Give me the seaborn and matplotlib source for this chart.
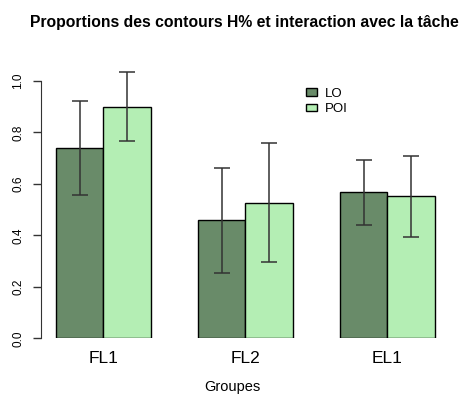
import matplotlib
matplotlib.use("Agg")
import matplotlib.pyplot as plt
import seaborn as sns
import pandas as pd
import numpy as np

# values
groups = ["FL1", "FL2", "EL1"]
conditions = ["LO", "POI"]
lo_means = [0.740, 0.459, 0.567]
poi_means = [0.900, 0.527, 0.552]
lo_err = [0.183, 0.204, 0.127]
poi_err = [0.134, 0.230, 0.157]

df = pd.DataFrame({
    "Groupe": groups * 2,
    "Condition": ["LO"] * 3 + ["POI"] * 3,
    "Proportion": lo_means + poi_means,
})
errs = {"LO": lo_err, "POI": poi_err}

sns.set_style("white")
plt.rcParams['font.family'] = ['Liberation Sans', 'DejaVu Sans']
plt.rcParams['text.color'] = 'black'
plt.rcParams['xtick.color'] = 'black'
plt.rcParams['ytick.color'] = 'black'

fig = plt.figure(figsize=(4.62, 4.03), dpi=100)
ax = fig.add_axes([0.0885, 0.1605, 0.885, 0.690])

palette = {"LO": "#698B69", "POI": "#B4EEB4"}
sns.barplot(data=df, x="Groupe", y="Proportion", hue="Condition",
            order=groups, hue_order=conditions, palette=palette,
            width=2/3, edgecolor="black", linewidth=1.0, saturation=1,
            errorbar=None, ax=ax)

# error bars at the bar centres
for cont, cond in zip(ax.containers, conditions):
    xs = [p.get_x() + p.get_width() / 2 for p in cont.patches]
    ys = [p.get_height() for p in cont.patches]
    ax.errorbar(xs, ys, yerr=errs[cond], fmt="none", ecolor="#333333",
                elinewidth=1.1, capsize=6, capthick=1.1, clip_on=False)

ax.set_xlim(-0.44, 2.44)
ax.set_ylim(0, 1.08)
ax.set_yticks(np.arange(0, 1.01, 0.2))
ax.set_yticklabels([f"{v:.1f}" for v in np.arange(0, 1.01, 0.2)],
                   rotation=90, va="center", fontsize=8.5)
ax.tick_params(axis="y", left=True, length=6, width=1, color="#333333", pad=6)
ax.tick_params(axis="x", length=0, pad=9, labelsize=12.5, labelcolor="black")
for s in ["top", "right", "bottom"]:
    ax.spines[s].set_visible(False)
ax.spines["left"].set_bounds(0, 1)
ax.spines["left"].set_color("#333333")
ax.set_xlabel("")
ax.set_ylabel("")

fig.text(0.503, 0.0405, "Groupes", ha="center", va="center", fontsize=10.5)
fig.suptitle("Proportions des contours H% et interaction avec la tâche",
             x=0.53, y=0.962, fontsize=11.3, fontweight="bold")

handles, labels = ax.get_legend_handles_labels()
ax.legend(handles, labels, loc="upper left", bbox_to_anchor=(0.662, 0.782),
          bbox_transform=fig.transFigure, frameon=False, fontsize=9.5,
          handlelength=0.85, handleheight=0.55, handletextpad=0.6,
          labelspacing=0.25, borderpad=0, borderaxespad=0)

fig.savefig("out.png", dpi=100)
